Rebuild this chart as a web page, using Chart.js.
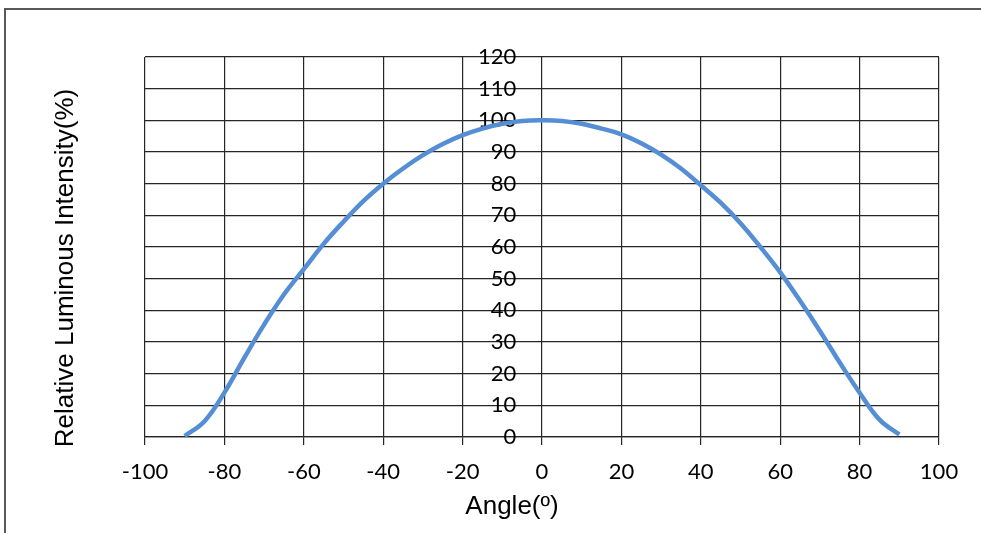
<!DOCTYPE html>
<html>
<head>
<meta charset="utf-8">
<script src="https://cdn.jsdelivr.net/npm/chart.js@4.4.1/dist/chart.umd.min.js"></script>
<style>
  html, body { margin: 0; padding: 0; background: #fff; }
  #wrap { position: relative; width: 981px; height: 533px; overflow: hidden; }
  #frame { position: absolute; left: 4px; top: 8px; width: 1000px; height: 600px;
           border-left: 2px solid #595959; border-top: 2px solid #595959; }
  canvas { position: absolute; left: 0; top: 0; }
</style>
</head>
<body>
<div id="wrap">
  <div id="frame"></div>
  <canvas id="chart" width="981" height="533"></canvas>
</div>
<script>
// angle (deg) vs relative intensity (%)
const angles = [-90, -85, -80, -75, -70, -65, -60, -55, -50, -45, -40, -35, -30, -25, -20, -15, -10, -5,
  0, 5, 10, 15, 20, 25, 30, 35, 40, 45, 50, 55, 60, 65, 70, 75, 80, 85, 90];
const intensity = [0.3, 5, 14, 25, 35.5, 45, 53, 61, 68, 74.5, 80, 84.8, 89, 92.5, 95.3, 97.4, 98.9, 99.8,
  100, 99.8, 98.9, 97.4, 95.6, 92.8, 89.2, 84.8, 79.5, 74, 67.5, 60, 52, 43, 33.5, 23.5, 14, 5.5, 0.8];

const xTicks = [-100, -80, -60, -40, -20, 0, 20, 40, 60, 80, 100];
const yTicks = [0, 10, 20, 30, 40, 50, 60, 70, 80, 90, 100, 110, 120];

const xTitle = "Angle(\u00BA)";
const yTitle = "Relative Luminous Intensity(%)";

const gridColor = "#262626";
const tickFont = { family: "Lato, 'Noto Sans', sans-serif", size: 22 };

const axisTitles = {
  id: "axisTitles",
  afterDraw(chart) {
    const { ctx, chartArea } = chart;
    ctx.save();
    ctx.fillStyle = "#000";
    ctx.textAlign = "center";
    ctx.textBaseline = "alphabetic";
    ctx.font = "26px 'Liberation Sans', Arial, sans-serif";
    ctx.fillText(xTitle, (chartArea.left + chartArea.right) / 2 - 30, chartArea.bottom + 77);
    ctx.translate(chartArea.left - 72, (chartArea.top + chartArea.bottom) / 2 + 21);
    ctx.rotate(-Math.PI / 2);
    ctx.fillText(yTitle, 0, 0);
    ctx.restore();
  }
};

const ctx = document.getElementById("chart").getContext("2d");

new Chart(ctx, {
  type: "line",
  data: {
    datasets: [{
      data: angles.map((a, i) => ({ x: a, y: intensity[i] })),
      borderColor: "#558ED5",
      borderWidth: 4.5,
      pointRadius: 0,
      tension: 0.4,
      fill: false
    }]
  },
  options: {
    responsive: false,
    animation: false,
    layout: { padding: { left: 145, right: 42, top: 57, bottom: 36 } },
    plugins: {
      legend: { display: false },
      tooltip: { enabled: false }
    },
    scales: {
      x: {
        type: "linear",
        min: -100,
        max: 100,
        afterBuildTicks: s => { s.ticks = xTicks.map(v => ({ value: v })); },
        afterFit: s => { s.height = 60; },
        grid: { color: gridColor, lineWidth: 1.2, tickLength: 8, tickColor: gridColor },
        border: { color: gridColor, width: 1.2 },
        ticks: { color: "#000", font: tickFont, padding: 14, maxRotation: 0 }
      },
      y: {
        type: "linear",
        // labels sit just left of the 0° line, as in the reference
        position: { x: -6.5 },
        min: 0,
        max: 120,
        afterBuildTicks: s => { s.ticks = yTicks.map(v => ({ value: v })); },
        grid: { color: gridColor, lineWidth: 1.2, drawTicks: false },
        border: { display: false },
        ticks: { color: "#000", font: { family: tickFont.family, size: 22 } }
      }
    }
  },
  plugins: [axisTitles]
});
</script>
</body>
</html>
